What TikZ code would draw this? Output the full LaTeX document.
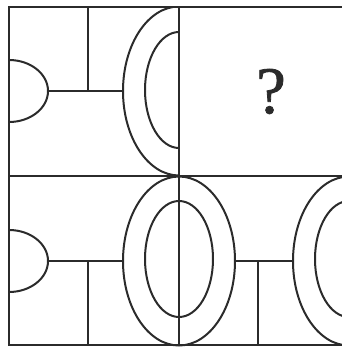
\documentclass[tikz,border=0pt]{standalone}
\usepackage{fontspec}
\newfontfamily\qfont[FakeBold=1.2]{Liberation Serif}
\usetikzlibrary{shapes.geometric,calc}
\definecolor{ink}{HTML}{2B2B2B}

\begin{document}
\begin{tikzpicture}[x=0.75pt, y=-0.75pt,
    edge/.style={draw=ink, line width=1.5pt},
    ring/.style 2 args={ellipse, edge, inner sep=0pt, outer sep=0pt,
                        minimum width=#1, minimum height=#2},
    bigring/.style={ring={84pt}{126.75pt}},
    smallring/.style={ring={51pt}{87pt}},
    lobe/.style={ring={58.5pt}{46.5pt}}
  ]
  \useasboundingbox (0,0) rectangle (342,347);
  \clip (0,0) rectangle (342,347);

  % outer grid
  \draw[edge] (9,7) rectangle (349,345);
  \draw[edge] (179,7) -- (179,345);
  \draw[edge] (9,176) -- (349,176);

  % top left panel
  \begin{scope}
    \clip (9,7) rectangle (179,176);
    \node[lobe] (lobeA) at (9,91) {};
    \node[bigring] (outerA) at (179,91) {};
    \node[smallring] (innerA) at (179,90) {};
  \end{scope}
  \coordinate (stemA) at (88,7);
  \draw[edge] (lobeA.east) -- (outerA.west);
  \draw[edge] (stemA) -- (stemA |- outerA.west);

  % top right panel
  \node[font=\qfont\fontsize{50}{50}\selectfont, text=ink] (ask) at (271,91.5) {?};

  % bottom left panel
  \begin{scope}
    \clip (9,176) rectangle (179,345);
    \node[lobe] (lobeB) at (9,261) {};
  \end{scope}
  \node[bigring] (outerB) at (179,261) {};
  \node[smallring] (innerB) at (179,259) {};
  \coordinate (stemB) at (88,345);
  \draw[edge] (lobeB.east) -- (outerB.west);
  \draw[edge] (stemB) -- (stemB |- outerB.west);

  % bottom right panel
  \node[bigring] (outerC) at (349,261) {};
  \node[smallring] (innerC) at (349,259) {};
  \coordinate (stemC) at (258,345);
  \draw[edge] (outerB.east) -- (outerC.west);
  \draw[edge] (stemC) -- (stemC |- outerC.west);
\end{tikzpicture}
\end{document}
